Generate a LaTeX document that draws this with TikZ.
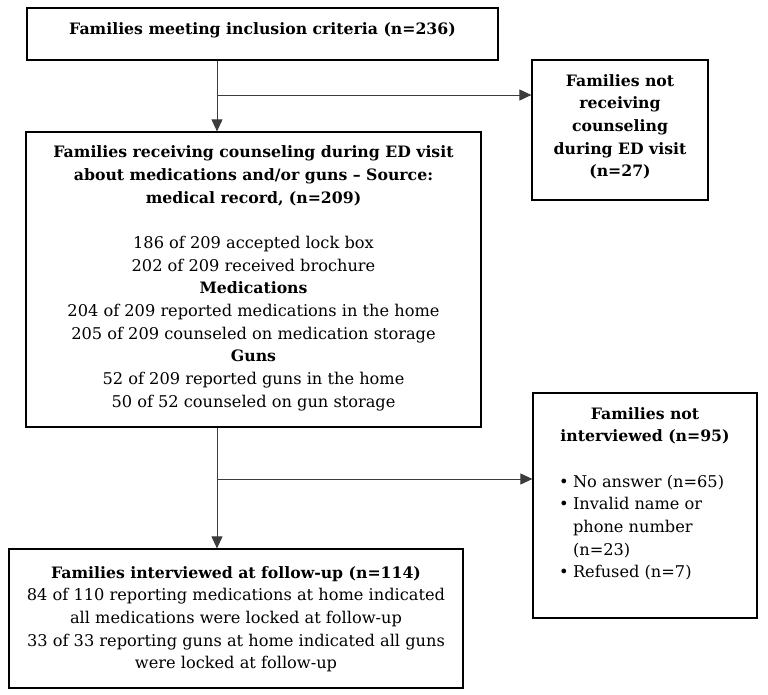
\documentclass[tikz,border=0pt]{standalone}
\usepackage{fontspec}
\setmainfont{DejaVu Serif}
\usetikzlibrary{arrows.meta,positioning}
\definecolor{LineDark}{HTML}{3C3C3C}
\newcommand{\itm}{\makebox[14pt][l]{\textbullet}}
\newcommand{\hd}[1]{{\fontsize{15.7}{22.7}\selectfont\bfseries #1}}

\begin{document}
\begin{tikzpicture}[
      x=1pt, y=-1pt,
      box/.style={
        draw=black,
        line width=1.2pt,
        align=center,
        inner xsep=4pt,
        inner ysep=0pt,
        font=\fontsize{16.2}{22.7}\selectfont
      },
      flow/.style={-{Triangle[length=12pt,width=11pt]}, draw=LineDark, line width=0.9pt}
    ]
      \useasboundingbox (0,0) rectangle (768,694);
      \node[box, minimum width=471pt, minimum height=52pt, text depth=10pt] (incl) at (262.5,34)
        {\hd{Families meeting inclusion criteria (n=236)}};
      \node[box, minimum width=176pt, minimum height=140pt, text depth=9pt] (nocouns) at (620,130)
        {\hd{Families not}\\\hd{receiving}\\\hd{counseling}\\\hd{during ED visit}\\\hd{(n=27)}};
      \node[box, minimum width=455pt, minimum height=295pt, text depth=6pt] (couns) at (253.5,279.5)
        {\hd{Families receiving counseling during ED visit}\\
         \hd{about medications and/or guns -- Source:}\\
         \hd{medical record, (n=209)}\\[22.7pt]
         186 of 209 accepted lock box\\
         202 of 209 received brochure\\
         \hd{Medications}\\
         204 of 209 reported medications in the home\\
         205 of 209 counseled on medication storage\\
         \hd{Guns}\\
         52 of 209 reported guns in the home\\
         50 of 52 counseled on gun storage};
      \node[box, minimum width=224pt, minimum height=225pt, align=left, text depth=26pt] (notint) at (645,505.5)
        {\makebox[216pt]{\hd{Families not}}\\
         \makebox[216pt]{\hd{interviewed (n=95)}}\\[22.7pt]
         \hspace*{22pt}\itm No answer (n=65)\\
         \hspace*{22pt}\itm Invalid name or\\
         \hspace*{36pt}phone number\\
         \hspace*{36pt}(n=23)\\
         \hspace*{22pt}\itm Refused (n=7)};
      \node[box, minimum width=454pt, minimum height=139pt, text depth=2pt] (followup) at (236,618.5)
        {\hd{Families interviewed at follow-up (n=114)}\\
         84 of 110 reporting medications at home indicated\\
         all medications were locked at follow-up\\
         33 of 33 reporting guns at home indicated all guns\\
         were locked at follow-up};
      \coordinate (split1) at (217,95);
      \coordinate (split2) at (217,479);
      \draw[flow] (incl.south -| split1) -- (couns.north -| split1);
      \draw[flow] (split1) -- (split1 -| nocouns.west);
      \draw[flow] (couns.south -| split2) -- (followup.north -| split2);
      \draw[flow] (split2) -- (split2 -| notint.west);
    \end{tikzpicture}
\end{document}
